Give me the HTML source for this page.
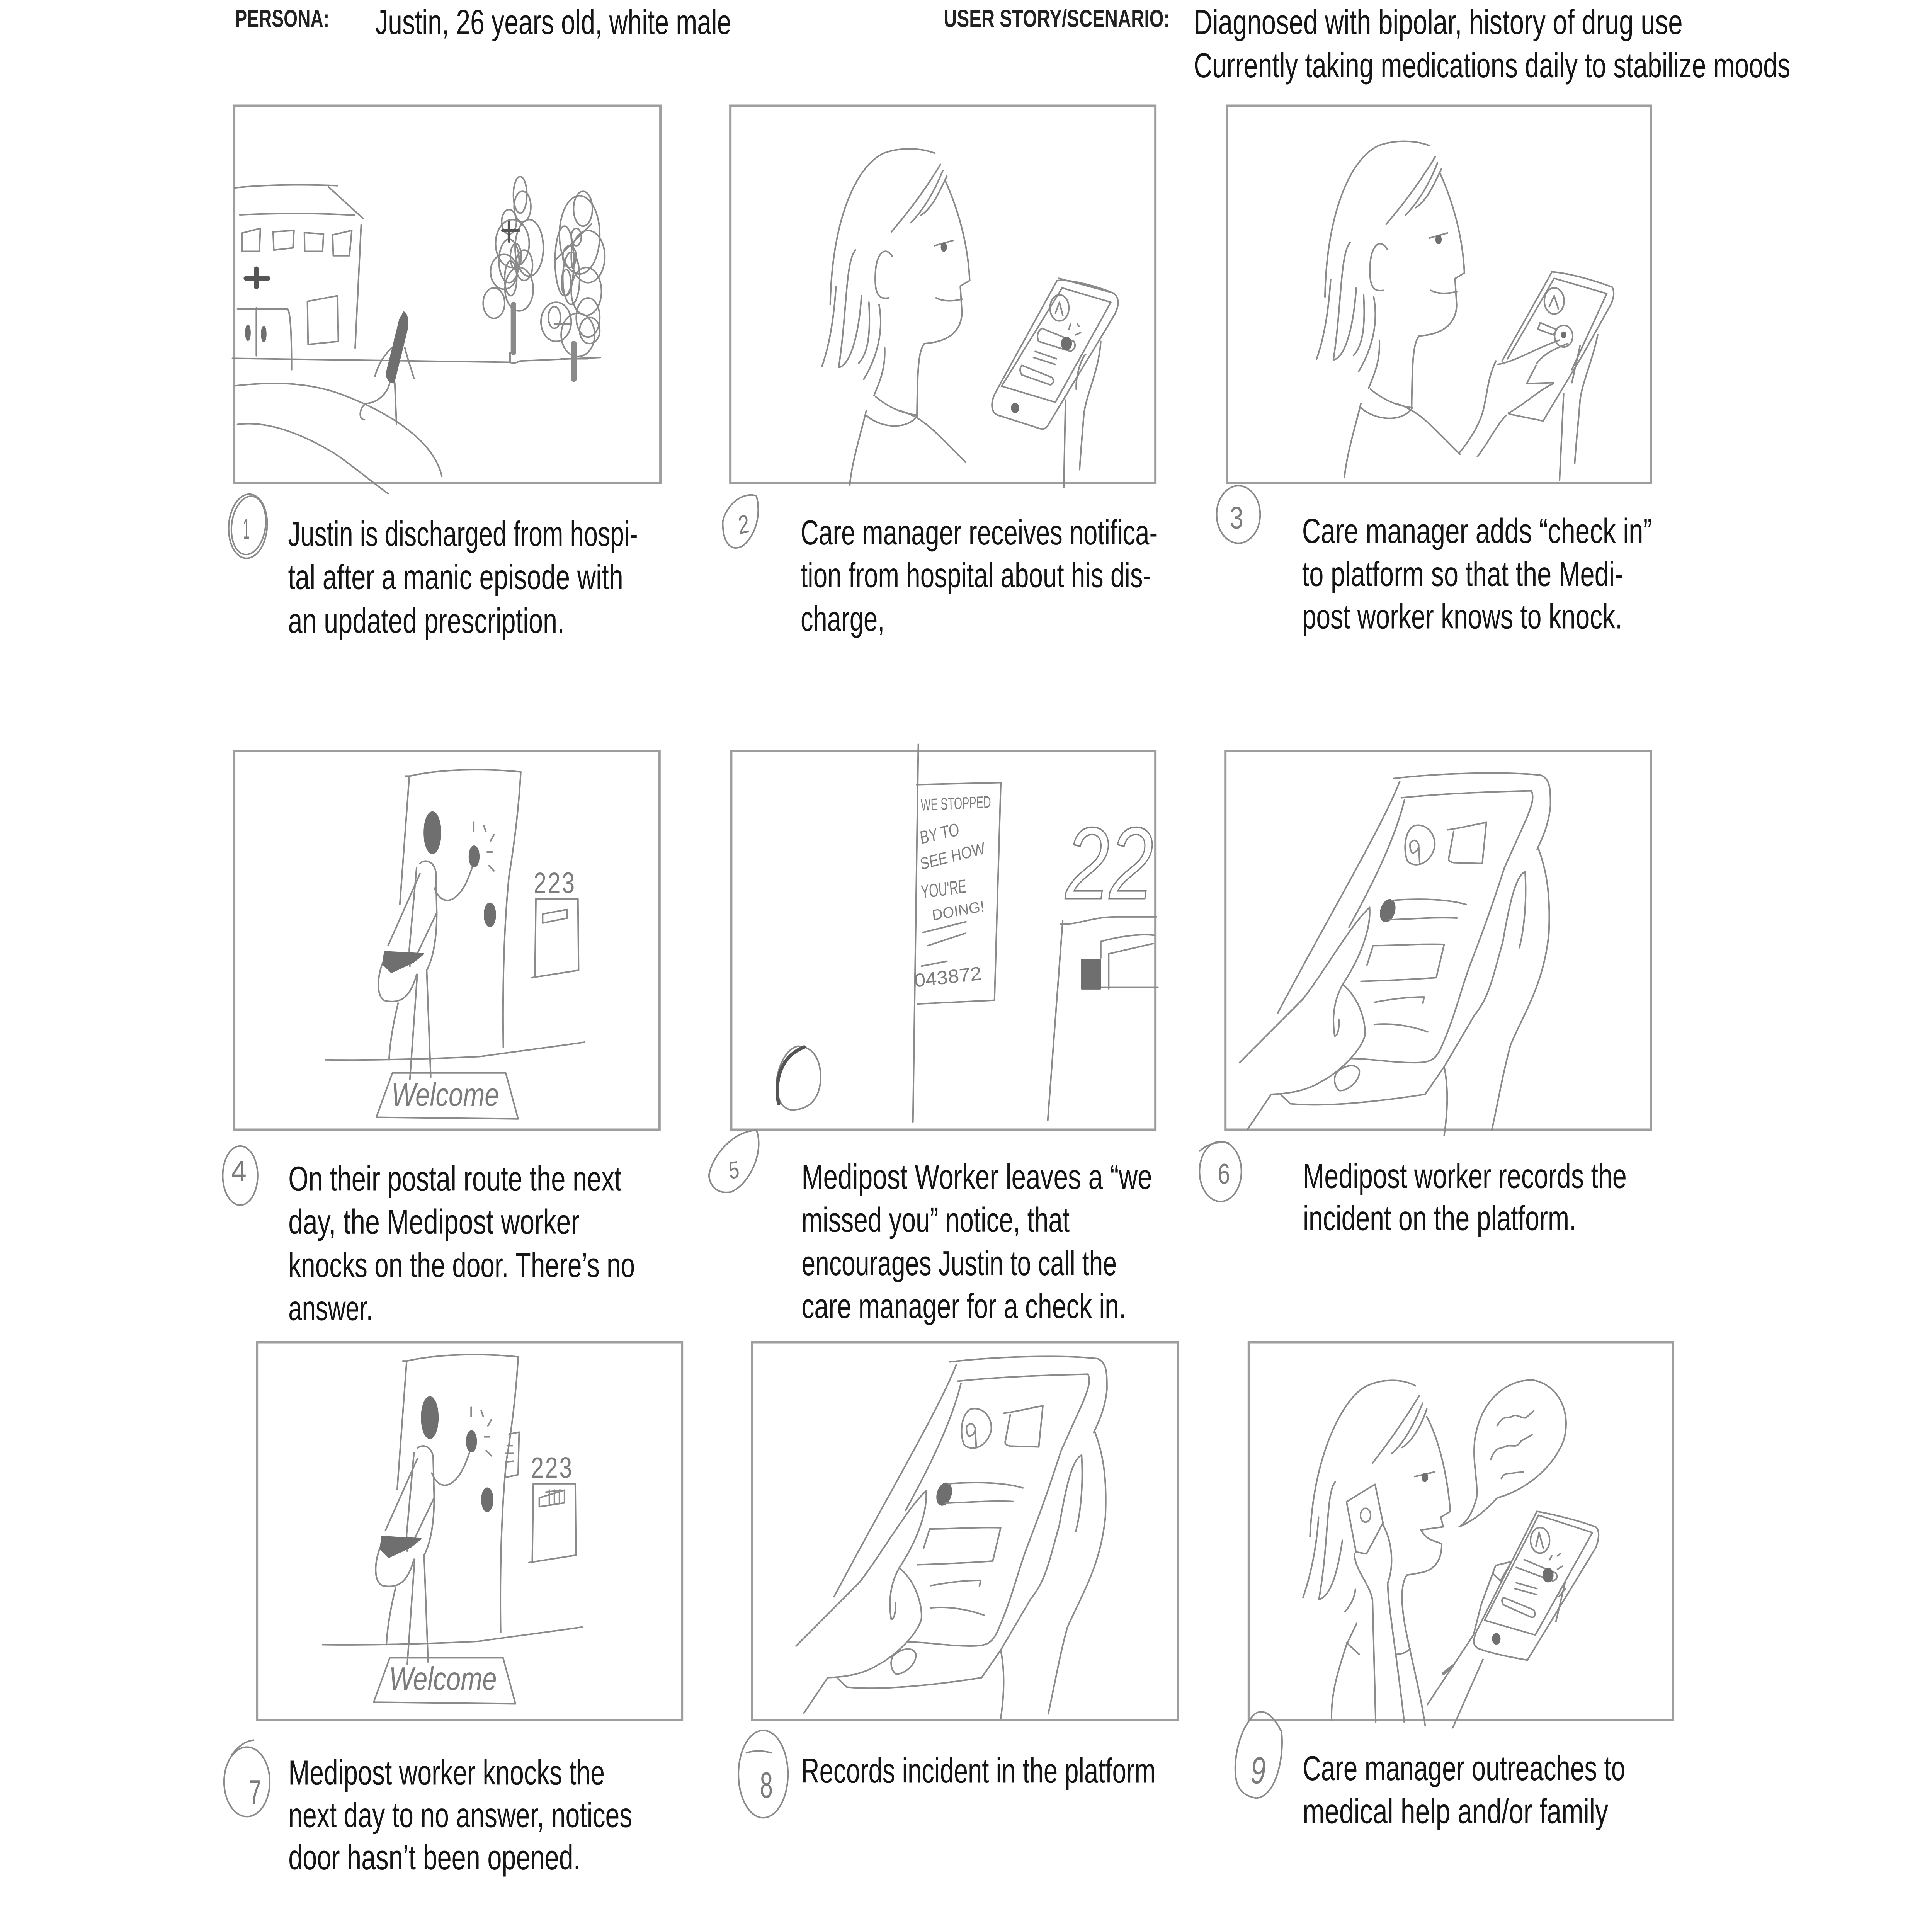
<!DOCTYPE html>
<html lang="en">
<head>
<meta charset="utf-8">
<title>Storyboard: Justin</title>
<style>
html,body{margin:0;padding:0;background:#fff;width:100%;height:100%;overflow:hidden}
svg{display:block;width:100vw;height:100vh}
path,ellipse,rect{vector-effect:non-scaling-stroke}
.s{fill:none;stroke:#8a8a8a;stroke-width:4;stroke-linecap:round;stroke-linejoin:round}
.d{fill:#6f6f6f;stroke:#6f6f6f}
.th{stroke-width:8}
.b{fill:none;stroke:#9e9e9e;stroke-width:6}
.t{font-family:"Liberation Sans",sans-serif;font-size:92px;fill:#151515;stroke:none}
.h{font-family:"Liberation Sans",sans-serif;font-size:64px;font-weight:700;fill:#222;stroke:none}
.w{font-family:"Liberation Sans",sans-serif;fill:#7c7c7c;stroke:none}
.o{font-family:"Liberation Sans",sans-serif;font-style:italic;fill:none;stroke:#808080;stroke-width:4}
</style>
</head>
<body>
<svg xmlns="http://www.w3.org/2000/svg" viewBox="0 0 6600 5100" preserveAspectRatio="none">
<defs>
<clipPath id="c5"><rect x="2498" y="1982" width="1449" height="1000"/></clipPath>
<g id="head" transform="translate(2400 0) scale(1.148)">
<path d="M690 352C650 340 590 338 540 352C460 380 385 500 380 700"/>
<path d="M397 660C390 740 375 800 355 843"/>
<path d="M455 575C425 600 430 720 405 845C440 840 465 770 473 680"/>
<path d="M495 695C500 760 495 810 465 835"/>
<path d="M525 700C540 760 520 820 480 872"/>
<path d="M542 800C545 850 525 880 510 910"/>
<path d="M708 378C660 440 610 490 562 533"/>
<path d="M715 392C690 440 660 480 620 512"/>
<path d="M727 405C700 450 680 480 650 495"/>
<path d="M722 415C760 480 790 560 795 645L767 658L772 720C770 750 750 785 660 790C640 810 640 860 638 955"/>
<path d="M695 685C720 695 750 692 772 688"/>
<path d="M565 590C545 565 520 580 515 620C510 670 520 690 553 685"/>
<path d="M690 565L745 553"/>
<ellipse class="d" cx="718" cy="568" rx="7" ry="9"/>
<path d="M515 912C550 935 590 950 640 955"/>
<path d="M487 955C530 985 610 990 640 955"/>
<path d="M487 945C470 1000 445 1060 438 1115"/>
<path d="M590 945C660 960 700 1000 782 1062"/>
</g>
<g id="knock" transform="translate(700 1900) scale(1.148 1.084)">
<path d="M597 137L610 137C700 120 830 118 940 127"/>
<path d="M608 140L580 450"/>
<path d="M940 127C935 200 925 280 905 380C890 500 885 650 888 798"/>
<ellipse class="d" cx="677" cy="275" rx="24" ry="50"/>
<path d="M640 350C650 340 680 340 687 370L690 470C690 530 680 580 660 610L672 870"/>
<path d="M630 360L608 560L610 600"/>
<path d="M632 620L610 875"/>
<path d="M640 375L545 550"/>
<path d="M690 470L620 590"/>
<path d="M683 410C700 445 730 450 760 420C780 400 790 370 800 350"/>
<ellipse class="d" cx="801" cy="333" rx="14" ry="25"/>
<path d="M800 250V272M830 258L836 272M860 280L850 295M840 322H855M845 355L860 368"/>
<ellipse class="d" cx="848" cy="475" rx="16" ry="28"/>
<path d="M530 590C510 630 510 680 540 685C580 690 610 680 630 620"/>
<path class="d" d="M535 565L650 570L620 590L555 615L530 595Z"/>
<path d="M575 690C560 740 550 790 548 828"/>
<path d="M358 828C500 830 700 825 820 820C950 805 1050 795 1130 785"/>
<path d="M985 436H1110L1112 610L972 628M985 436L982 625"/>
<path d="M558 860L895 860L932 972L510 968Z"/>
</g>
<g id="tablet" transform="translate(4050 1900) scale(1.084)">
<path d="M655 143C800 130 1000 125 1120 135C1150 145 1150 170 1150 210C1145 250 1130 280 1108 315"/>
<path d="M1070 370C1040 380 1020 450 1000 540L975 610C950 680 930 700 910 720L815 845L755 912C650 925 450 945 330 935L300 913"/>
<path d="M680 190C800 180 960 175 1090 173C1100 190 1090 210 1075 240L1005 360C980 420 950 490 900 590C870 650 850 720 810 790C790 830 770 835 720 835C650 835 580 825 520 825"/>
<path d="M675 150C620 260 450 480 290 715"/>
<path d="M690 195C660 290 590 400 515 505"/>
<path d="M170 835L370 680C440 610 520 500 580 457C585 510 550 580 495 645C470 680 460 720 470 770C480 770 485 750 483 730"/>
<path d="M495 645C540 670 570 730 565 770C550 810 480 860 430 880C390 900 340 910 270 912L195 998"/>
<path d="M475 860C500 840 540 835 548 855C550 880 510 905 485 903C470 895 465 875 475 860"/>
<path d="M720 258C760 250 790 280 785 310C775 345 730 365 700 345C685 320 690 270 720 258"/>
<path d="M708 300Q725 285 735 305Q735 320 715 325Q705 315 708 300M735 310L738 352"/>
<path d="M825 268C860 265 910 255 948 250L935 350L845 348Q825 345 830 335L845 272"/>
<ellipse class="d" cx="637" cy="465" rx="20" ry="28" transform="rotate(30 637 465)"/>
<path d="M650 440C720 435 820 435 885 450M640 487C720 485 790 480 855 483"/>
<path d="M590 550C660 550 740 545 815 547L790 628C720 632 630 635 553 637M590 553L572 597"/>
<path d="M595 688C650 680 700 675 752 675L748 690M595 742C650 738 710 745 763 760"/>
<path d="M1110 310C1140 370 1150 430 1145 520C1130 640 1070 710 1025 790C1000 860 985 930 965 1000"/>
<path d="M815 845C830 900 825 960 815 1012"/>
<path d="M1070 370C1075 430 1070 500 1052 555"/>
</g>
</defs>

<!-- headers -->
<text class="h" x="803" y="71" textLength="322" lengthAdjust="spacingAndGlyphs">PERSONA:</text>
<text class="t" x="1282" y="90" textLength="1216" lengthAdjust="spacingAndGlyphs">Justin, 26 years old, white male</text>
<text class="h" x="3224" y="71" textLength="772" lengthAdjust="spacingAndGlyphs">USER STORY/SCENARIO:</text>
<text class="t" x="4078" y="90" textLength="1670" lengthAdjust="spacingAndGlyphs">Diagnosed with bipolar, history of drug use</text>
<text class="t" x="4078" y="204" textLength="2038" lengthAdjust="spacingAndGlyphs">Currently taking medications daily to stabilize moods</text>

<!-- panel frames -->
<rect class="b" x="800" y="279" width="1456" height="996"/>
<rect class="b" x="2495" y="279" width="1452" height="996"/>
<rect class="b" x="4191" y="279" width="1449" height="996"/>
<rect class="b" x="800" y="1982" width="1453" height="1000"/>
<rect class="b" x="2498" y="1982" width="1449" height="1000"/>
<rect class="b" x="4186" y="1982" width="1454" height="1000"/>
<rect class="b" x="878" y="3543" width="1452" height="997"/>
<rect class="b" x="2570" y="3543" width="1454" height="997"/>
<rect class="b" x="4266" y="3543" width="1449" height="997"/>

<g class="s">
<!-- PANEL 1 -->
<g transform="translate(700 0) scale(1.148)">
<path d="M88 432C180 424 300 424 395 427M368 430L470 502M104 494C220 490 340 490 445 495M465 517L447 800"/>
<path d="M110 536L165 525L162 578L110 578ZM203 533L265 530L262 570L205 575ZM296 535L353 538L350 578L297 578ZM380 540L437 530L430 588L382 588Z"/>
<path style="stroke:#555;stroke-width:12" d="M153 618V660M122 640H188"/>
<path d="M97 710H245Q258 715 258 850M153 708V818"/>
<ellipse class="d" cx="128" cy="765" rx="6" ry="17"/>
<ellipse class="d" cx="175" cy="768" rx="6" ry="17"/>
<path d="M305 693L395 680L397 785L307 792Z"/>
<path d="M82 824C300 826 600 830 905 833C930 838 930 830 940 830L1177 822"/>
<path d="M90 887C200 878 300 878 400 905C540 945 680 1010 705 1095"/>
<path d="M97 976C200 965 320 1010 400 1050C450 1078 500 1110 545 1135"/>
<path class="d" d="M592 718Q605 722 602 755L562 880Q545 880 540 860L580 735Z"/>
<path d="M555 800C530 820 515 840 506 865M595 800C605 830 615 850 622 870"/>
<path d="M550 880C545 900 520 925 480 928C460 935 455 965 475 965M565 880L570 975"/>
<!-- trees -->
<path style="stroke-width:14" d="M918 700V810M1098 790V872"/><path d="M908 810V833"/>
<ellipse cx="938" cy="448" rx="20" ry="42"/><ellipse cx="945" cy="475" rx="25" ry="35"/>
<ellipse cx="905" cy="510" rx="22" ry="28"/><ellipse cx="915" cy="560" rx="50" ry="55"/>
<ellipse cx="965" cy="570" rx="42" ry="65"/><ellipse cx="890" cy="625" rx="40" ry="40"/>
<ellipse cx="935" cy="665" rx="42" ry="50"/><ellipse cx="860" cy="697" rx="32" ry="35"/>
<ellipse cx="905" cy="600" rx="30" ry="50"/><ellipse cx="950" cy="610" rx="25" ry="35"/>
<ellipse cx="910" cy="640" rx="18" ry="40"/><ellipse cx="925" cy="590" rx="16" ry="30"/>
<path style="stroke:#555;stroke-width:7" d="M885 530H935M905 510V555"/>
<path d="M1060 825H1140"/>
<ellipse cx="1125" cy="480" rx="28" ry="40"/><ellipse cx="1115" cy="540" rx="60" ry="90"/>
<ellipse cx="1140" cy="590" rx="50" ry="60"/><ellipse cx="1070" cy="600" rx="28" ry="80"/>
<ellipse cx="1135" cy="670" rx="45" ry="55"/><ellipse cx="1045" cy="740" rx="45" ry="45"/>
<ellipse cx="1110" cy="770" rx="50" ry="50"/><ellipse cx="1140" cy="730" rx="35" ry="45"/>
<ellipse cx="1145" cy="760" rx="30" ry="30"/><ellipse cx="1090" cy="640" rx="25" ry="60"/>
<ellipse cx="1105" cy="545" rx="15" ry="20"/><ellipse cx="1075" cy="650" rx="14" ry="30"/>
<ellipse cx="1085" cy="590" rx="20" ry="25"/><ellipse cx="1040" cy="730" rx="18" ry="25"/>
<path d="M1040 600L1150 515M1040 745H1090"/>
<!-- number -->
<ellipse cx="128" cy="1210" rx="57" ry="74" transform="rotate(8 128 1210)"/>
<ellipse cx="130" cy="1208" rx="50" ry="68" transform="rotate(14 130 1208)"/>
</g>

<!-- PANEL 2 -->
<use href="#head"/>
<g transform="translate(2400 0) scale(1.148)">
<path d="M1055 645C1100 642 1180 660 1225 675C1245 690 1235 710 1225 725L1030 975C1020 990 1010 988 990 982L880 955C860 950 855 930 870 905L1055 645"/>
<path d="M1060 640L1215 672"/>
<path d="M1070 662L1215 695L1050 925L890 888Z"/>
<ellipse cx="1062" cy="708" rx="28" ry="30"/>
<path d="M1050 720L1062 695L1072 725"/>
<path d="M1010 755L1105 785Q1115 800 1095 808L1000 785Q990 765 1010 755"/>
<ellipse class="d" cx="1083" cy="790" rx="14" ry="14"/>
<path d="M1090 758L1095 745M1115 745L1120 750M1110 770L1125 765"/>
<path d="M990 808L1053 825M985 822L1050 838"/>
<path d="M950 840L1040 868Q1050 880 1035 885L950 862Q940 850 950 840"/>
<ellipse class="d" cx="930" cy="938" rx="10" ry="10"/>
<path d="M1185 785C1180 850 1145 900 1135 950C1130 1000 1125 1040 1122 1080"/>
<path d="M1080 920L1075 1120M1112 895C1110 860 1130 820 1140 815"/>
<path d="M60 1200C70 1160 120 1130 160 1140C175 1180 160 1230 120 1255C85 1270 60 1250 60 1200Z"/>
</g>

<!-- PANEL 3 -->
<use href="#head" transform="translate(1690 -20)"/>
<g transform="translate(4100 0) scale(1.403 1.148)">
<path d="M855 625C900 628 960 645 1003 660Q1012 675 1000 700L935 810L835 968L752 952"/>
<path d="M855 628L735 830M862 640L990 675L905 850M862 640L748 825"/>
<ellipse cx="862" cy="692" rx="24" ry="30"/>
<path d="M850 705L862 680L872 710"/>
<path d="M828 742L868 758L860 770L822 757Z"/>
<ellipse cx="885" cy="773" rx="22" ry="25"/>
<ellipse class="d" cx="885" cy="770" rx="5" ry="6"/>
<path d="M725 838C770 830 820 800 875 782M820 835C840 810 870 800 895 790"/>
<path d="M720 830C700 870 700 900 690 940C680 980 650 1020 632 1040"/>
<path d="M818 840L795 882L860 880M750 950C790 930 820 900 860 882M675 1050C700 1020 720 980 745 955"/>
<path d="M968 770C955 830 930 880 925 920C920 980 915 1020 912 1065M885 905L875 1105M925 795L905 880"/>
<ellipse cx="93" cy="1183" rx="53" ry="66"/>
</g>

<!-- PANEL 4 -->
<use href="#knock"/>
<g transform="translate(700 1900) scale(1.148 1.084)">
<path d="M1005 473L1078 462L1078 483L1005 495Z"/>
<ellipse cx="105" cy="1110" rx="52" ry="72"/>
</g>

<!-- PANEL 5 -->
<g transform="translate(2400 1900) scale(1.084)">
<path d="M680 60L663 980"/>
<path d="M675 158L940 153L920 683L678 692"/>
<path d="M695 518L830 492M710 550L828 520M690 600L770 588"/>
<path d="M1128 498C1180 500 1230 480 1300 480L1430 480M1135 490L1088 975"/>
<path d="M1255 540C1310 528 1380 520 1425 525M1255 540V580M1280 570L1420 545M1280 570V655M1250 652H1435"/>
<rect class="d" x="1195" y="585" width="58" height="70"/>
<path d="M300 795C350 795 375 830 372 880C365 930 330 950 280 950C240 945 230 910 235 870C245 830 270 800 300 795"/>
<path style="stroke:#555;stroke-width:9" d="M240 935C225 880 245 820 320 797"/>
<path d="M20 1110C30 1060 100 1000 170 1000C195 1050 150 1130 90 1150C50 1155 25 1140 20 1110Z"/>
</g>

<!-- PANEL 6 -->
<use href="#tablet"/>
<g transform="translate(4050 1900) scale(1.084)">
<ellipse cx="110" cy="1100" rx="66" ry="73"/>
<path d="M45 1050Q80 1025 135 1030"/>
</g>

<!-- PANEL 7 -->
<use href="#knock" transform="translate(-9 1544)"/>
<g transform="translate(700 3500) scale(1.148 1.02)">
<path d="M905 280L935 275L932 385L895 392M895 330H918M900 310L915 310M895 352L918 350"/>
<path d="M995 445L1070 425L1070 458L995 468ZM1015 430L1060 425M1025 425V460M1040 425V460M1055 425V460"/>
<ellipse cx="125" cy="1180" rx="68" ry="90"/>
<path d="M80 1110Q110 1075 145 1072"/>
</g>

<!-- PANEL 8 -->
<use href="#tablet" transform="translate(-1515 1540)"/>
<g transform="translate(2450 3500) scale(1.084 1.02)">
<ellipse cx="145" cy="1160" rx="78" ry="113"/>
<path d="M92 1105Q130 1095 170 1105"/>
</g>

<!-- PANEL 9 -->
<g transform="translate(4150 3500) scale(1.084 1.02)">
<path d="M632 155C590 135 510 135 460 165C390 210 310 350 300 545"/>
<path d="M327 495C320 580 300 650 278 703"/>
<path d="M380 403C350 430 360 560 328 708C370 700 390 620 402 555"/>
<path d="M443 682C440 710 420 730 410 740"/>
<path d="M447 770L415 825C390 890 365 950 368 1020M415 820L455 850"/>
<path d="M645 180C600 240 550 300 497 355M655 200C630 250 600 300 558 330M668 215C650 260 620 300 590 315"/>
<path d="M668 235C710 300 735 400 742 480L712 495L720 520L650 528C670 560 700 555 715 565C715 610 690 635 640 640L605 645C585 670 585 720 605 800C625 880 650 960 663 1035"/>
<path d="M630 390L692 378"/>
<ellipse class="d" cx="662" cy="392" rx="8" ry="10"/>
<path d="M415 455L505 410L530 510L478 590L445 585Z"/>
<ellipse cx="475" cy="490" rx="16" ry="18"/>
<path d="M530 515C560 560 565 620 545 665C545 720 570 830 597 1025"/>
<path d="M440 590C440 630 490 670 497 710L507 1025"/>
<path d="M570 850C590 850 605 845 615 835"/>
<path d="M1015 480C1080 490 1150 505 1200 520C1215 530 1210 555 1200 575L985 865C950 860 880 850 830 835C810 825 815 810 825 790L1015 480"/>
<path d="M1020 490L1190 535L1010 800L850 762L1020 490"/>
<ellipse cx="1025" cy="555" rx="30" ry="33"/>
<path d="M1012 570L1022 535L1035 575"/>
<path d="M975 605L1075 640Q1085 655 1065 660L950 625"/>
<ellipse class="d" cx="1050" cy="645" rx="15" ry="17"/>
<path d="M1055 605L1062 595M1080 595L1088 590M1080 630L1095 622"/>
<path d="M950 665L1015 680M945 680L1013 695"/>
<path d="M910 703L1005 735Q1015 750 1000 755L910 722Q900 710 910 703"/>
<ellipse class="d" cx="887" cy="810" rx="11" ry="13"/>
<path d="M885 620L935 610L900 660L875 640M885 620L840 720L815 800L670 980"/>
<path class="th" d="M720 900L750 880"/>
<path d="M845 863L750 1040M1105 660L1075 765M1085 700L1105 680"/>
<path d="M770 520C800 510 840 490 890 445C960 430 1060 380 1100 295C1125 220 1080 150 1000 140C920 140 840 190 820 290C810 350 830 400 825 445C810 490 790 510 770 520"/>
<path d="M890 258C910 230 920 240 935 235C950 225 965 240 980 238L1005 220"/>
<path d="M870 345C885 310 900 320 915 312C935 305 950 320 965 298L1000 282"/>
<path d="M903 395C915 375 930 385 945 380L972 378"/>
<path d="M110 1020C140 980 180 1000 210 1050C220 1120 190 1220 130 1222C80 1215 60 1190 65 1130C70 1080 90 1040 110 1020"/>
</g>
</g>

<!-- handwritten labels, kept as real text -->
<text class="w" font-size="76" x="830" y="1422" textLength="22" lengthAdjust="spacingAndGlyphs">1</text>
<text class="w" font-size="68" x="2525" y="1410" transform="rotate(-8 2525 1410)">2</text>
<text class="w" font-size="82" x="4201" y="1395" textLength="46" lengthAdjust="spacingAndGlyphs">3</text>
<text class="w" font-size="78" x="790" y="3118" textLength="52" lengthAdjust="spacingAndGlyphs">4</text>
<text class="w" font-size="64" x="2492" y="3112" transform="rotate(-6 2492 3112)">5</text>
<text class="w" font-size="76" x="4160" y="3125" textLength="42" lengthAdjust="spacingAndGlyphs">6</text>
<text class="w" font-size="78" x="1823" y="2357" textLength="140" lengthAdjust="spacing">223</text>
<text class="w" font-size="78" x="1814" y="3901" textLength="140" lengthAdjust="spacing">223</text>
<text class="w" font-size="86" font-style="italic" x="1337" y="2919" textLength="368" lengthAdjust="spacingAndGlyphs">Welcome</text>
<text class="w" font-size="86" font-style="italic" x="1329" y="4461" textLength="368" lengthAdjust="spacingAndGlyphs">Welcome</text>
<text class="w" font-size="44" x="3146" y="2140" textLength="240" lengthAdjust="spacingAndGlyphs" transform="rotate(-2 3146 2140)">WE STOPPED</text>
<text class="w" font-size="48" x="3146" y="2228" textLength="135" lengthAdjust="spacingAndGlyphs" transform="rotate(-10 3146 2228)">BY TO</text>
<text class="w" font-size="44" x="3146" y="2296" textLength="225" lengthAdjust="spacingAndGlyphs" transform="rotate(-11 3146 2296)">SEE HOW</text>
<text class="w" font-size="50" x="3148" y="2372" textLength="155" lengthAdjust="spacingAndGlyphs" transform="rotate(-6 3148 2372)">YOU'RE</text>
<text class="w" font-size="40" x="3186" y="2430" textLength="180" lengthAdjust="spacingAndGlyphs" transform="rotate(-8 3186 2430)">DOING!</text>
<text class="w" font-size="50" x="3125" y="2606" textLength="230" lengthAdjust="spacingAndGlyphs" transform="rotate(-5 3125 2606)">043872</text>
<g clip-path="url(#c5)">
<text class="o" font-size="270" x="3640" y="2372" textLength="300" lengthAdjust="spacing">22</text>
</g>
<text class="w" font-size="96" x="2596" y="4745" textLength="44" lengthAdjust="spacingAndGlyphs">8</text>
<text class="w" font-size="92" x="849" y="4763" textLength="44" lengthAdjust="spacingAndGlyphs">7</text>
<text class="w" font-size="100" x="4272" y="4708" textLength="52" lengthAdjust="spacingAndGlyphs" font-style="italic">9</text>

<!-- captions -->
<text class="t" x="984" y="1441" textLength="1195" lengthAdjust="spacingAndGlyphs">Justin is discharged from hospi-</text>
<text class="t" x="984" y="1555" textLength="1145" lengthAdjust="spacingAndGlyphs">tal after a manic episode with</text>
<text class="t" x="984" y="1670" textLength="944" lengthAdjust="spacingAndGlyphs">an updated prescription.</text>

<text class="t" x="2735" y="1437" textLength="1220" lengthAdjust="spacingAndGlyphs">Care manager receives notifica-</text>
<text class="t" x="2735" y="1550" textLength="1198" lengthAdjust="spacingAndGlyphs">tion from hospital about his dis-</text>
<text class="t" x="2735" y="1665" textLength="287" lengthAdjust="spacingAndGlyphs">charge,</text>

<text class="t" x="4448" y="1433" textLength="1195" lengthAdjust="spacingAndGlyphs">Care manager adds “check in”</text>
<text class="t" x="4448" y="1547" textLength="1097" lengthAdjust="spacingAndGlyphs">to platform so that the Medi-</text>
<text class="t" x="4448" y="1659" textLength="1094" lengthAdjust="spacingAndGlyphs">post worker knows to knock.</text>

<text class="t" x="985" y="3143" textLength="1138" lengthAdjust="spacingAndGlyphs">On their postal route the next</text>
<text class="t" x="985" y="3257" textLength="995" lengthAdjust="spacingAndGlyphs">day, the Medipost worker</text>
<text class="t" x="985" y="3371" textLength="1184" lengthAdjust="spacingAndGlyphs">knocks on the door. There’s no</text>
<text class="t" x="985" y="3485" textLength="289" lengthAdjust="spacingAndGlyphs">answer.</text>

<text class="t" x="2738" y="3138" textLength="1198" lengthAdjust="spacingAndGlyphs">Medipost Worker leaves a “we</text>
<text class="t" x="2738" y="3252" textLength="916" lengthAdjust="spacingAndGlyphs">missed you” notice, that</text>
<text class="t" x="2738" y="3366" textLength="1077" lengthAdjust="spacingAndGlyphs">encourages Justin to call the</text>
<text class="t" x="2738" y="3479" textLength="1109" lengthAdjust="spacingAndGlyphs">care manager for a check in.</text>

<text class="t" x="4451" y="3136" textLength="1106" lengthAdjust="spacingAndGlyphs">Medipost worker records the</text>
<text class="t" x="4451" y="3247" textLength="934" lengthAdjust="spacingAndGlyphs">incident on the platform.</text>

<text class="t" x="985" y="4711" textLength="1081" lengthAdjust="spacingAndGlyphs">Medipost worker knocks the</text>
<text class="t" x="985" y="4823" textLength="1175" lengthAdjust="spacingAndGlyphs">next day to no answer, notices</text>
<text class="t" x="985" y="4935" textLength="998" lengthAdjust="spacingAndGlyphs">door hasn’t been opened.</text>

<text class="t" x="2737" y="4706" textLength="1211" lengthAdjust="spacingAndGlyphs">Records incident in the platform</text>

<text class="t" x="4450" y="4699" textLength="1102" lengthAdjust="spacingAndGlyphs">Care manager outreaches to</text>
<text class="t" x="4450" y="4813" textLength="1044" lengthAdjust="spacingAndGlyphs">medical help and/or family</text>
</svg>
</body>
</html>
